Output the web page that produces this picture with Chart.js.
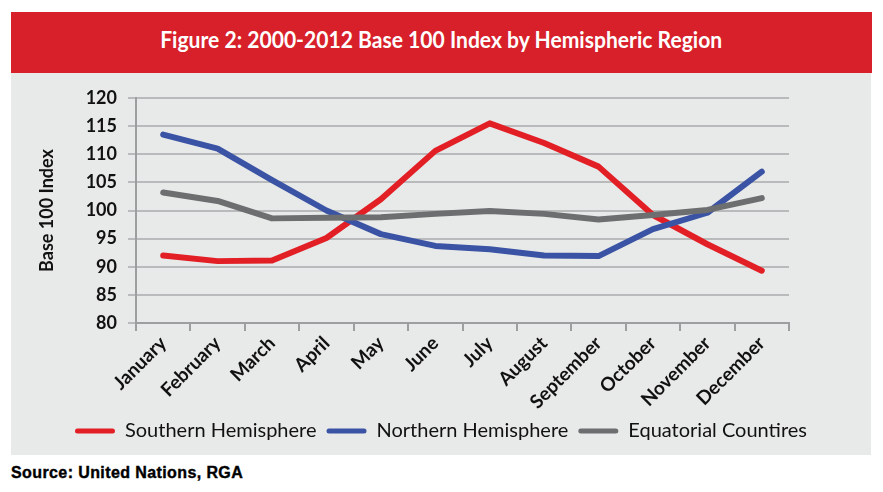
<!DOCTYPE html>
<html>
<head>
<meta charset="utf-8">
<title>Base 100 Index by Hemispheric Region</title>
<script src="https://cdn.jsdelivr.net/npm/chart.js@4.4.1/dist/chart.umd.min.js"></script>
<style>
  body { margin: 0; background: #fff; width: 883px; height: 492px; position: relative; overflow: hidden; }
  #header {
    position: absolute; left: 11px; top: 12px; width: 861px; height: 61px;
    background: #d7202a; color: #fff; text-align: center; line-height: 61px;
  }
  #header span {
    display: inline-block; font: bold 22px Lato, sans-serif;
    transform-origin: center center;
  }
  #panel { position: absolute; left: 11px; top: 73px; width: 860px; height: 382px; background: #e8e9e9; }
  #source {
    position: absolute; left: 11px; top: 464px;
    font: bold 16px "Liberation Sans", Arial, sans-serif; color: #000;
    letter-spacing: 0.4px; -webkit-text-stroke: 0.4px #000;
  }
</style>
</head>
<body>
<div id="header"><span id="titleText">Figure 2: 2000-2012 Base 100 Index by Hemispheric Region</span></div>
<div id="panel"><canvas id="hemiChart" width="860" height="382"></canvas></div>
<div id="source">Source: United Nations, RGA</div>

<script>
// months on the x axis
const months = ['January', 'February', 'March', 'April', 'May', 'June',
                'July', 'August', 'September', 'October', 'November', 'December'];

// base 100 index values
const southern   = [92.0, 91.0, 91.1, 95.1, 102.0, 110.6, 115.5, 112.0, 107.8, 99.2, 94.0, 89.3];
const northern   = [113.5, 111.0, 105.4, 100.0, 95.8, 93.7, 93.1, 92.0, 91.9, 96.7, 99.6, 106.9];
const equatorial = [103.2, 101.7, 98.6, 98.7, 98.8, 99.4, 99.9, 99.4, 98.4, 99.2, 100.1, 102.2];

const seriesNames = ['Southern Hemisphere', 'Northern Hemisphere', 'Equatorial Countires'];

const yTicks = { min: 80, max: 120, step: 5 };

// squeeze the title a little, the original uses a narrower face
const titleEl = document.getElementById('titleText');
const titleW = titleEl.getBoundingClientRect().width;
titleEl.style.transform = 'scaleX(' + (562 / titleW) + ')';

function lineSet(label, data, color, order) {
    return {
        label: label,
        data: data,
        borderColor: color,
        backgroundColor: color,
        borderWidth: 6,
        borderCapStyle: 'round',
        borderJoinStyle: 'round',
        pointRadius: 0,
        tension: 0,
        fill: false,
        order: order
    };
}

const ctx = document.getElementById('hemiChart').getContext('2d');
new Chart(ctx, {
    type: 'line',
    data: {
        labels: months,
        datasets: [
            lineSet(seriesNames[0], southern, '#e31f26', 3),
            lineSet(seriesNames[1], northern, '#3a53a4', 2),
            lineSet(seriesNames[2], equatorial, '#6d6e70', 1)
        ]
    },
    options: {
        responsive: false,
        animation: false,
        layout: { padding: { top: 25, right: 0, bottom: 4, left: 0 } },
        plugins: {
            tooltip: { enabled: false },
            legend: {
                position: 'bottom',
                labels: {
                    color: '#111',
                    font: { family: 'Lato', size: 20 },
                    boxWidth: 40,
                    boxHeight: 5,
                    padding: 10,
                    useBorderRadius: true,
                    borderRadius: 2.5,
                    sort: (a, b) => a.datasetIndex - b.datasetIndex,
                    generateLabels: chart =>
                        Chart.defaults.plugins.legend.labels.generateLabels(chart)
                            .map(l => ({ ...l, lineWidth: 0, fillStyle: l.strokeStyle }))
                }
            }
        },
        scales: {
            x: {
                offset: true,
                afterFit: scale => { scale.height = 88; },
                grid: {
                    offset: true,
                    drawOnChartArea: false,
                    drawTicks: true,
                    tickLength: 8,
                    color: '#9d9ea0',
                    lineWidth: 2
                },
                border: { color: '#9d9ea0', width: 2 },
                ticks: {
                    color: '#111',
                    font: { family: 'Lato', size: 19, weight: 'bold' },
                    maxRotation: 45,
                    minRotation: 45,
                    padding: 1
                }
            },
            y: {
                min: yTicks.min,
                max: yTicks.max,
                afterFit: scale => { scale.width = 125; },
                grid: {
                    color: '#b9babc',
                    lineWidth: 2,
                    tickLength: 8
                },
                border: { color: '#9d9ea0', width: 2 },
                ticks: {
                    stepSize: yTicks.step,
                    color: '#111',
                    font: { family: 'Lato', size: 18, weight: 'bold' },
                    padding: 11
                },
                title: {
                    display: true,
                    text: 'Base 100 Index',
                    color: '#111',
                    font: { family: 'Lato', size: 18, weight: 'bold' },
                    padding: { top: 25, bottom: 0 }
                }
            },
            // empty right-hand axis, only reserves the blank strip right of the plot
            spacer: {
                position: 'right',
                afterFit: scale => { scale.width = 82; },
                grid: { display: false, drawTicks: false },
                border: { display: false },
                ticks: { display: false }
            }
        }
    }
});
</script>
</body>
</html>
